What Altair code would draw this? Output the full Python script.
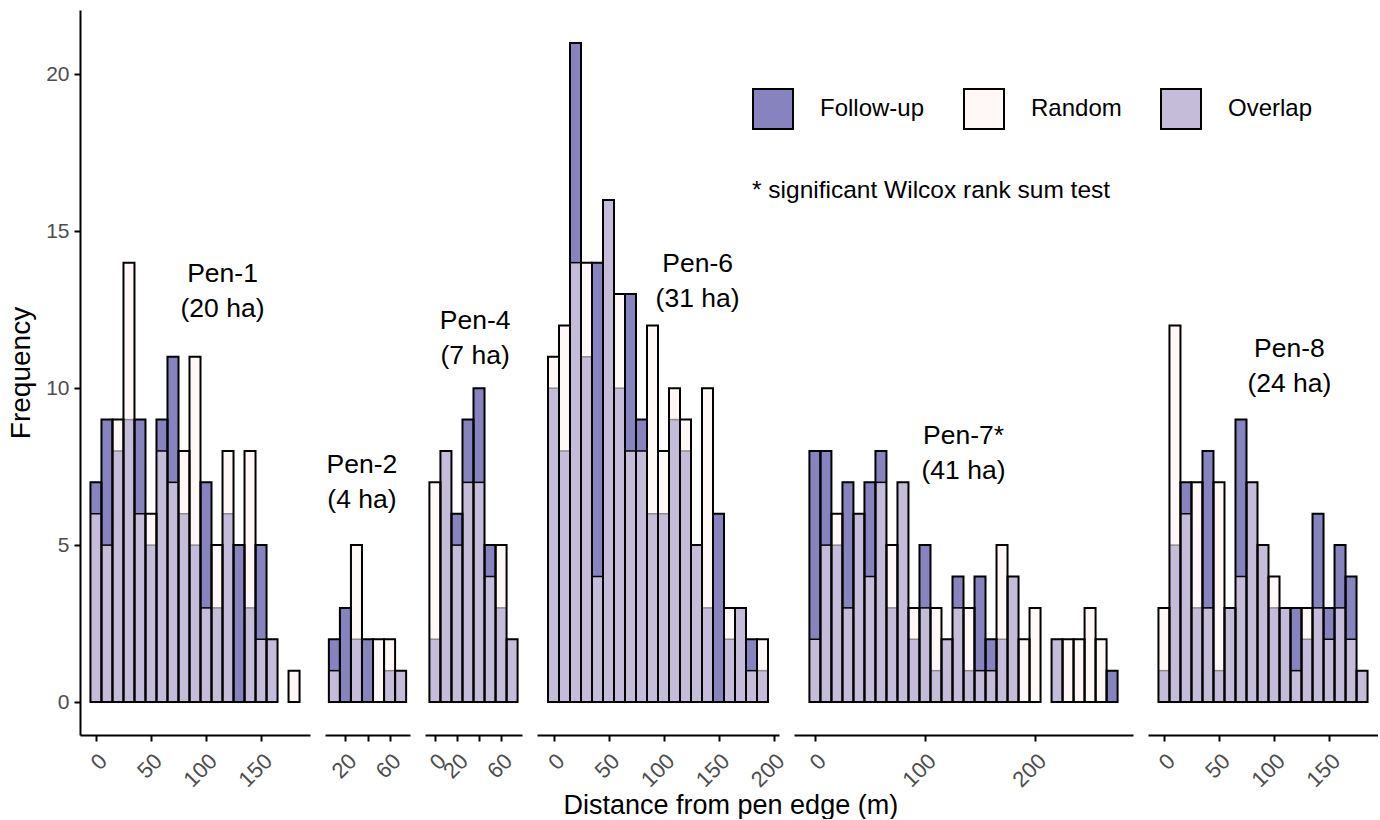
import altair as alt
import pandas as pd

FONT = "Liberation Sans"

# ---------------- data (counts per 10 m bin) ----------------
PENS = ["Pen-1", "Pen-2", "Pen-4", "Pen-6", "Pen-7", "Pen-8"]
AREAS = ["(20 ha)", "(4 ha)", "(7 ha)", "(31 ha)", "(41 ha)", "(24 ha)"]
SIGNIFICANT = [False, False, False, False, True, False]
FIRST_BIN_CENTRE = [0, 10, 0, 0, 0, 0]
BIN_WIDTH = 10

followup_pen1 = [7, 9, 8, 9, 9, 5, 9, 11, 6, 5, 7, 3, 6, 5, 3, 5, 2, 0, 0]
random_pen1 = [6, 5, 9, 14, 6, 6, 8, 7, 8, 11, 3, 5, 8, 0, 8, 2, 2, 0, 1]

followup_pen2 = [2, 3, 2, 2, 0, 1, 1]
random_pen2 = [1, 0, 5, 0, 2, 2, 1]

followup_pen4 = [2, 8, 6, 9, 10, 5, 3, 2]
random_pen4 = [7, 8, 5, 7, 7, 4, 5, 2]

followup_pen6 = [10, 8, 21, 11, 14, 16, 10, 13, 9, 6, 6, 9, 8, 5, 3, 6, 2, 3, 2, 1]
random_pen6 = [11, 12, 14, 14, 4, 16, 13, 8, 8, 12, 8, 10, 9, 5, 10, 0, 3, 3, 1, 2]

followup_pen7 = [8, 8, 5, 7, 6, 7, 8, 3, 7, 2, 5, 1, 2, 4, 1, 4, 2, 2, 4, 0, 0, 0, 2, 0, 0, 0, 0, 1]
random_pen7 = [2, 5, 6, 3, 6, 4, 7, 5, 7, 3, 3, 3, 2, 3, 3, 1, 1, 5, 4, 2, 3, 0, 2, 2, 2, 3, 2, 0]

followup_pen8 = [1, 5, 7, 3, 8, 1, 3, 9, 7, 5, 3, 3, 3, 2, 6, 3, 5, 4, 1]
random_pen8 = [3, 12, 6, 7, 3, 7, 3, 4, 7, 5, 4, 3, 1, 3, 3, 2, 3, 2, 1]

FOLLOWUP = [followup_pen1, followup_pen2, followup_pen4, followup_pen6, followup_pen7, followup_pen8]
RANDOM = [random_pen1, random_pen2, random_pen4, random_pen6, random_pen7, random_pen8]

X_TICKS = [[0, 50, 100, 150], [20, 40, 60], [0, 20, 40, 60],
           [0, 50, 100, 150, 200], [0, 100, 200], [0, 50, 100, 150]]
HIDDEN_TICK_LABELS = [[], [40], [40], [], [], []]
Y_TICKS = [0, 5, 10, 15, 20]

# panel label anchor (first line centre, data units of each panel)
LABEL_X = [115, 35, 36.5, 131, 135, 114]
LABEL_Y = [13.63, 7.55, 12.13, 13.95, 8.47, 11.24]

CATEGORIES = ["Follow-up", "Random", "Overlap"]
COLORS = ["#8683BF", "#FFF8F6", "#C4BCD8"]
NOTE = "* significant Wilcox rank sum test"

PX_PER_M = 1.1
Y_DOMAIN = [-1.05, 22.05]
PLOT_H = 725

cscale = alt.Scale(domain=CATEGORIES, range=COLORS)
legend = alt.Legend(
    title=NOTE, orient="none", legendX=672, legendY=78, direction="horizontal",
    titleOrient="bottom", titleAnchor="start", titleFontSize=24.5, titleFontWeight="normal",
    titleFont=FONT, titleColor="black", titlePadding=46, titleLimit=800,
    labelFontSize=24, labelFont=FONT, labelColor="black", labelOffset=26, labelLimit=300,
    columnPadding=35, symbolType="square", symbolSize=1600, symbolStrokeColor="black",
    symbolStrokeWidth=2, symbolOpacity=1, padding=0,
)


def make_panel(i):
    f = FOLLOWUP[i]
    r = RANDOM[i]
    centres = [FIRST_BIN_CENTRE[i] + BIN_WIDTH * k for k in range(len(f))]
    rows = []
    for c, fv, rv in zip(centres, f, r):
        if fv > rv:
            win = "Follow-up"
            line = "black"
        elif rv > fv:
            win = "Random"
            line = "#8c8c8c"
        else:
            win = "Overlap"
            line = "black"
        rows.append(dict(x0=c - BIN_WIDTH / 2, x1=c + BIN_WIDTH / 2, top=max(fv, rv),
                         low=min(fv, rv), winner=win, ov="Overlap", line=line,
                         diff=fv != rv))
    df = pd.DataFrame(rows)
    lo = centres[0] - BIN_WIDTH / 2
    hi = centres[-1] + BIN_WIDTH / 2
    pad = 0.05 * (hi - lo)
    dom = [lo - pad, hi + pad]
    width = round((dom[1] - dom[0]) * PX_PER_M)

    hidden = HIDDEN_TICK_LABELS[i]
    label_expr = "datum.label"
    if hidden:
        label_expr = " || ".join(f"datum.value == {h}" for h in hidden) + " ? '' : datum.label"
    xaxis = alt.Axis(values=X_TICKS[i], title=None, labelAngle=315, labelAlign="right",
                     labelBaseline="top", labelFontSize=22, labelFont=FONT,
                     labelColor="#4d4d4d", labelPadding=9, tickColor="black", tickSize=6,
                     tickWidth=2, domainColor="black", domainWidth=2, grid=False,
                     labelExpr=label_expr, labelOverlap=False, offset=0)
    xscale = alt.Scale(domain=dom, nice=False, zero=False)
    yscale = alt.Scale(domain=Y_DOMAIN, nice=False, zero=False)
    if i == 0:
        yaxis = alt.Axis(values=Y_TICKS, title="Frequency", titleFontSize=28,
                         titleFont=FONT, titleFontWeight="normal", titleColor="black",
                         titlePadding=10, labelFontSize=21, labelFont=FONT,
                         labelColor="#4d4d4d", labelPadding=5, tickColor="black",
                         tickSize=6, tickWidth=2, domainColor="black", domainWidth=2,
                         grid=False)
    else:
        yaxis = None

    X = alt.X("x0:Q", scale=xscale, axis=xaxis)
    X2 = alt.X2("x1:Q")

    base = alt.Chart(df)
    outer = base.transform_filter("datum.top > 0").mark_rect().encode(
        x=X, x2=X2,
        y=alt.Y("top:Q", scale=yscale, axis=yaxis),
        y2=alt.Y2(datum=0),
        color=alt.Color("winner:N", scale=cscale, legend=legend),
    )
    overlap = base.transform_filter("datum.low > 0").mark_rect().encode(
        x=X, x2=X2,
        y=alt.Y("low:Q", scale=yscale, axis=yaxis),
        y2=alt.Y2(datum=0),
        color=alt.Color("ov:N", scale=cscale, legend=legend),
    )
    inner = base.transform_filter("datum.low > 0 && datum.diff").mark_rule(strokeWidth=1.5).encode(
        x=X, x2=X2,
        y=alt.Y("low:Q", scale=yscale, axis=yaxis),
        stroke=alt.Stroke("line:N", scale=None, legend=None),
    )
    outline = base.transform_filter("datum.top > 0").mark_rect(
        fillOpacity=0, stroke="black", strokeWidth=2).encode(
        x=X, x2=X2,
        y=alt.Y("top:Q", scale=yscale, axis=yaxis),
        y2=alt.Y2(datum=0),
    )
    name = PENS[i] + ("*" if SIGNIFICANT[i] else "")
    lab = pd.DataFrame({"lx": [LABEL_X[i]], "ly": [LABEL_Y[i]],
                        "label": [name + "\n" + AREAS[i]]})
    text = alt.Chart(lab).mark_text(
        font=FONT, fontSize=26.5, lineBreak="\n", lineHeight=35, align="center",
        baseline="middle", color="black").encode(
        x=alt.X("lx:Q", scale=xscale, axis=xaxis),
        y=alt.Y("ly:Q", scale=yscale, axis=yaxis),
        text="label:N",
    )
    return alt.layer(outer, overlap, inner, outline, text).properties(width=width, height=PLOT_H)


panels = [make_panel(i) for i in range(len(PENS))]

chart = alt.hconcat(*panels, spacing=15, bounds="flush").resolve_scale(
    x="independent", y="independent", color="shared"
).properties(
    title=alt.TitleParams("Distance from pen edge (m)", orient="bottom", anchor="middle",
                          fontSize=27, font=FONT, fontWeight="normal", color="black",
                          offset=2, dx=38),
    padding={"left": 7, "top": 10, "right": 0, "bottom": 0},
).configure_view(stroke=None)

chart.save("out.html", embed_options={"renderer": "svg", "actions": False})
